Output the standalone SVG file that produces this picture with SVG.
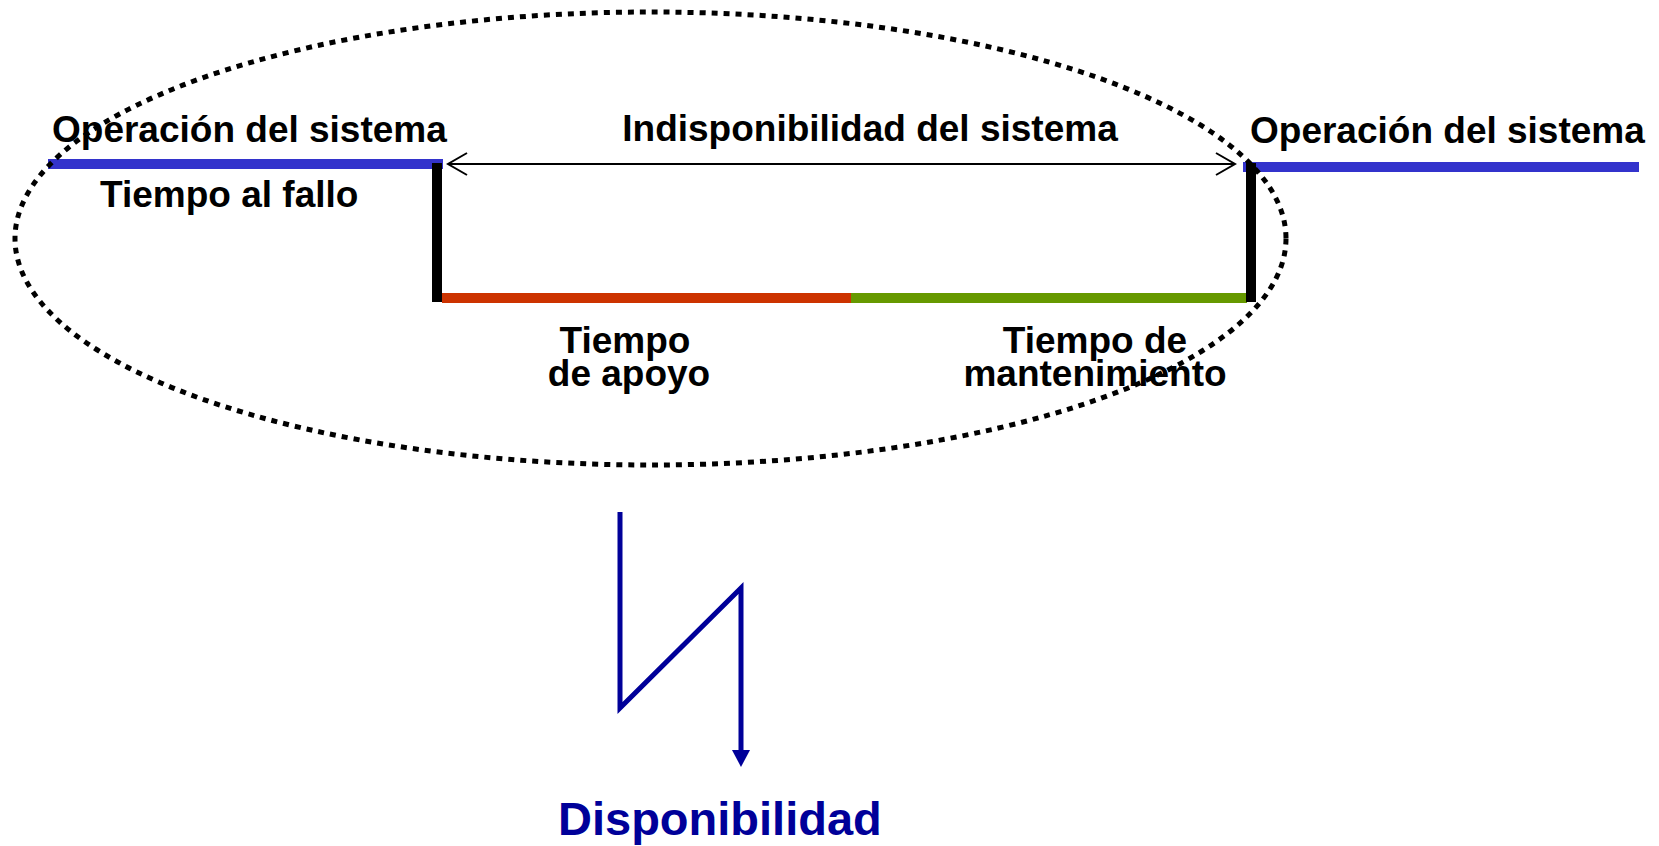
<svg xmlns="http://www.w3.org/2000/svg" width="1659" height="846" viewBox="0 0 1659 846">
<defs>
<style>
.t{font-family:"Liberation Sans",Arial,sans-serif;font-weight:bold;font-size:37px;fill:#000}
.m{text-anchor:middle}
.bar{stroke-width:10;fill:none}
</style>
<marker id="open" viewBox="0 0 22 24" refX="20" refY="12" markerWidth="22" markerHeight="24" markerUnits="userSpaceOnUse" orient="auto-start-reverse">
<path d="M1,1 L20,12 L1,23" fill="none" stroke="#000" stroke-width="2"/>
</marker>
</defs>
<rect width="1659" height="846" fill="#fff"/>
<g id="timeline">
<line class="bar" x1="48" y1="164" x2="443" y2="164" stroke="#3333CC"/>
<line class="bar" x1="1243" y1="167" x2="1639" y2="167" stroke="#3333CC"/>
<line class="bar" x1="442" y1="298" x2="851" y2="298" stroke="#CC3300"/>
<line class="bar" x1="851" y1="298" x2="1247" y2="298" stroke="#669900"/>
<line class="bar" x1="437" y1="163" x2="437" y2="302" stroke="#000"/>
<line class="bar" x1="1251" y1="163" x2="1251" y2="302" stroke="#000"/>
</g>
<g id="connectors">
<line x1="448" y1="164" x2="1235" y2="164" stroke="#000" stroke-width="2" marker-start="url(#open)" marker-end="url(#open)"/>
<path d="M620 512 L620 708 L741 588 L741 752" fill="none" stroke="#000099" stroke-width="5"/>
<polygon points="732,750 750,750 741,767" fill="#000099"/>
</g>
<g id="labels">
<text class="t" x="52" y="142">Operación del sistema</text>
<text class="t" x="1250" y="143">Operación del sistema</text>
<text class="t" x="100" y="207">Tiempo al fallo</text>
<text class="t m" x="870" y="141">Indisponibilidad del sistema</text>
<text class="t m" x="625" y="353">Tiempo</text>
<text class="t m" x="629" y="386">de apoyo</text>
<text class="t m" x="1095" y="353">Tiempo de</text>
<text class="t m" x="1095" y="386">mantenimiento</text>
</g>
<g id="availability">
<text x="558" y="835" style="font-family:'Liberation Sans',Arial,sans-serif;font-weight:bold;font-size:47px;fill:#000099">Disponibilidad</text>
</g>
<g id="scope">
<ellipse cx="650.5" cy="238.5" rx="635.5" ry="226.5" fill="none" stroke="#000" stroke-width="5" stroke-dasharray="6 6"/>
</g>
</svg>
